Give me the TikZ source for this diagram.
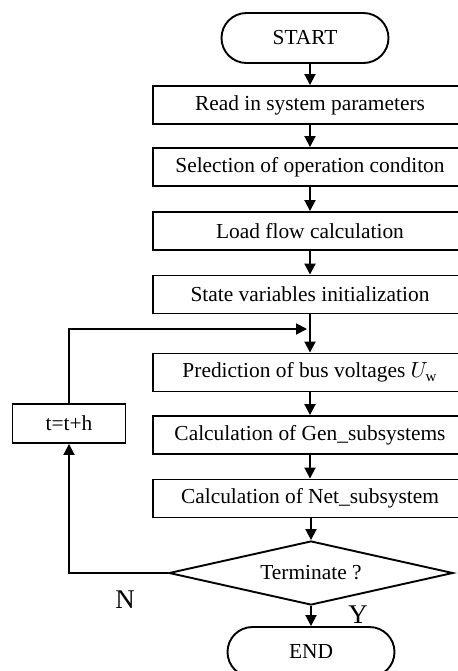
\documentclass[tikz,border=0pt]{standalone}
\usepackage{fontspec}
\setmainfont{Liberation Serif}
\usetikzlibrary{arrows.meta,shapes.geometric,shapes.misc}

\tikzset{
  flow/.style={line width=0.95pt, draw=black},
  arr/.style={flow, -{Triangle[length=5.5pt,width=5.5pt]}},
  stepbox/.style={flow, rectangle, minimum width=157pt, minimum height=19pt,
    inner sep=0pt, font=\fontsize{10.7}{13}\selectfont},
  termbox/.style={flow, rounded rectangle, minimum width=83.5pt, minimum height=25pt,
    inner sep=0pt, font=\fontsize{10.7}{13}\selectfont},
  decide/.style={flow, diamond, aspect=4.4, minimum width=142pt, minimum height=32pt,
    inner sep=0pt, font=\fontsize{10.7}{13}\selectfont},
  tag/.style={font=\fontsize{13.5}{15}\selectfont, inner sep=0pt},
}

\begin{document}
\begin{tikzpicture}[x=0.5pt, y=-0.5pt]
  \clip (0,0) rectangle (458,671);

  % main column
  \node[termbox] (start) at (305,38) {START};
  \node[stepbox] (read) at (310,105) {Read in system parameters};
  \node[stepbox] (sel)  at (310,167) {Selection of operation conditon};
  \node[stepbox] (lf)   at (310,231) {Load flow calculation};
  \node[stepbox] (init) at (310,294.5) {State variables initialization};
  \node[stepbox] (pred) at (310,372.5) {Prediction of bus voltages $U_{\mathrm{w}}$};
  \node[stepbox] (gen)  at (310,435) {Calculation of Gen\_subsystems};
  \node[stepbox] (net)  at (310,498.5) {Calculation of Net\_subsystem};
  \node[decide]  (term) at (311,573) {Terminate ?};
  \node[termbox] (fin)  at (311,652) {END};

  % time step box
  \node[stepbox, minimum width=56.5pt, minimum height=19.5pt] (tstep) at (69,423.5) {t=t+h};

  % branch labels
  \node[tag] (lblN) at (125,600) {N};
  \node[tag] (lblY) at (358,615) {Y};

  % loop corners
  \coordinate (cornerA) at (69,573);
  \coordinate (cornerB) at (69,329);
  \coordinate (joinL) at (307,329);

  % vertical flow
  \draw[arr] (read.north |- start.south) -- (read.north);
  \draw[arr] (read) -- (sel);
  \draw[arr] (sel) -- (lf);
  \draw[arr] (lf) -- (init);
  \draw[arr] (init) -- (pred);
  \draw[arr] (pred) -- (gen);
  \draw[arr] (gen) -- (net);
  \draw[arr] (term.north |- net.south) -- (term.north);
  \draw[arr] (term.south) -- (fin.north);

  % feedback loop
  \draw[arr] (term.west) -- (cornerA) -- (tstep.south);
  \draw[arr] (tstep.north) -- (cornerB) -- (joinL);
\end{tikzpicture}
\end{document}
